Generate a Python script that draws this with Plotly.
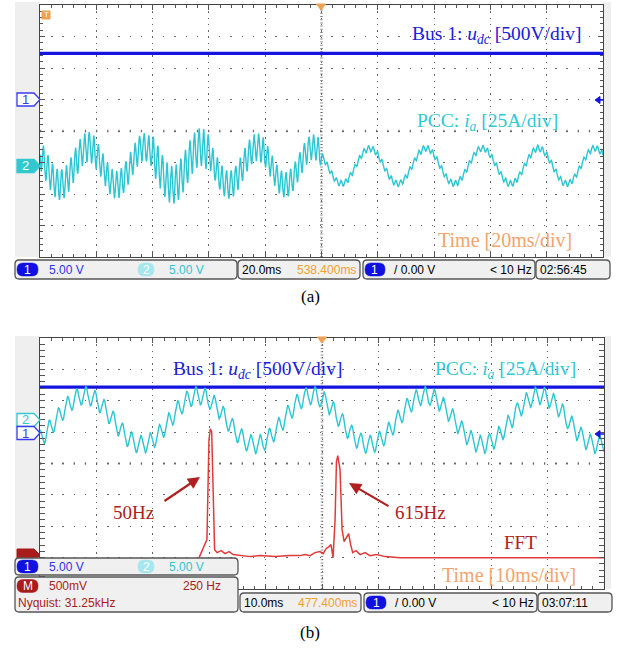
import numpy as np
import plotly.graph_objects as go

W, H = 618, 652

# ---------------- data ----------------
# common
ripple_freq_Hz = 615.0
V_per_div = 500.0          # bus 1 : u_dc
A_per_div = 25.0           # PCC : i_a
fft_mV_per_div = 500.0

# panel (a)  20 ms/div
a_time_ms = [-100.0, 100.0]
a_udc_V = [733.0, 733.0]
a_ch1_offset_div = 1.0
a_ch2_offset_div = -1.11
a_fund_freq_Hz = 50.0
a_first_peak_ms = -82.9
a_cycle_start_ms = [-100, -80, -60, -40, -20, 0, 20, 40, 60, 80]
a_fund_amp_A = [15, 15, 15, 15, 15, 14, 14, 14, 14, 14]
a_ripple_amp_A = [12, 11, 15, 11, 10, 2.5, 2.5, 2.5, 2.5, 2.5]

# panel (b)  10 ms/div
b_time_ms = [-50.0, 50.0]
b_udc_V = [733.0, 733.0]
b_ch1_offset_div = 0.97
b_ch2_offset_div = 1.385
b_fund_freq_Hz = 49.6
b_first_peak_ms = -42.1
b_cycle_start_ms = [-50, -30, -10, 10, 30]
b_fund_amp_A = [19.5, 19.5, 19.5, 19.5, 19.5]
b_ripple_amp_A = [7.2, 7.2, 7.2, 7.2, 7.2]

fft_ref_div = -3.0
fft_freq_Hz = [0, 35, 44, 50, 56, 62, 69, 80, 98, 115, 133, 151, 182, 226, 271, 337, 403, 447, 470, 492,
               514, 536, 550, 563, 576, 585, 594, 603, 609, 615, 625, 634, 643, 654, 663, 672, 681, 696, 714, 736,
               758, 785, 825, 891, 1795]
fft_mag_mV = [0, 287, 1879, 2054, 2006, 923, 127, 80, 111, 64, 96, 48, 32, 16, 32, 16, 32, 32, 48, 32,
              80, 96, 64, 143, 175, 207, 0, 605, 1528, 1624, 1401, 446, 255, 318, 382, 207, 80, 111, 48, 80,
              32, 48, 16, 0, 0]

# ---------------- colours / fonts ----------------
BLUE = "#1414e0"
CYAN = "#2cc6d2"
RED = "#e23a3a"
DRED = "#a81c1c"
ORANGE = "#f0a050"
SERIF = "Liberation Serif, Times New Roman, serif"
NARROW = "Liberation Sans, Arial, sans-serif"
SB = 12  # status bar font size


def X(px):
    return px / W


def Y(py):
    return 1 - py / H


def current_trace(trange, first_peak, f0, cyc_start, famp, ramp, n):
    t = np.linspace(trange[0], trange[1], n)
    idx = np.clip(np.searchsorted(np.array(cyc_start), t, side="right") - 1, 0, len(cyc_start) - 1)
    fa = np.array(famp, dtype=float)[idx]
    ra = np.array(ramp, dtype=float)[idx]
    i = fa * np.cos(2 * np.pi * f0 * (t - first_peak) / 1000.0) + ra * np.sin(
        2 * np.pi * ripple_freq_Hz * t / 1000.0)
    return t, i


fig = go.Figure()

# ---- panel (a) traces ----
fig.add_trace(go.Scatter(x=a_time_ms, y=[a_ch1_offset_div + v / V_per_div for v in a_udc_V],
                         mode="lines", line=dict(color=BLUE, width=3.2), xaxis="x", yaxis="y"))
ta, ia = current_trace(a_time_ms, a_first_peak_ms, a_fund_freq_Hz, a_cycle_start_ms,
                       a_fund_amp_A, a_ripple_amp_A, 8000)
fig.add_trace(go.Scatter(x=ta, y=a_ch2_offset_div + ia / A_per_div, mode="lines",
                         line=dict(color=CYAN, width=1.4), xaxis="x", yaxis="y"))

# ---- panel (b) traces ----
fig.add_trace(go.Scatter(x=b_time_ms, y=[b_ch1_offset_div + v / V_per_div for v in b_udc_V],
                         mode="lines", line=dict(color=BLUE, width=3.2), xaxis="x2", yaxis="y2"))
tb, ib = current_trace(b_time_ms, b_first_peak_ms, b_fund_freq_Hz, b_cycle_start_ms,
                       b_fund_amp_A, b_ripple_amp_A, 5000)
fig.add_trace(go.Scatter(x=tb, y=b_ch2_offset_div + ib / A_per_div, mode="lines",
                         line=dict(color=CYAN, width=1.4), xaxis="x2", yaxis="y2"))
fig.add_trace(go.Scatter(x=fft_freq_Hz, y=[fft_ref_div + m / fft_mV_per_div for m in fft_mag_mV],
                         mode="lines", line=dict(color=RED, width=1.5), xaxis="x3", yaxis="y2"))


def axis(rng, dt, mdt, domain, anchor, gdash):
    return dict(range=rng, domain=domain, anchor=anchor, dtick=dt, tick0=rng[0],
                showticklabels=False, ticks="inside", ticklen=5, tickcolor="#555", tickwidth=1,
                minor=dict(ticks="inside", ticklen=3, tickcolor="#555", dtick=mdt, tick0=rng[0], showgrid=False),
                showline=True, linecolor="#444", linewidth=1.3, mirror="allticks",
                showgrid=True, gridcolor="#666", gridwidth=1.3, griddash=gdash,
                zeroline=False, fixedrange=True)


a_dom_x = [X(40), X(603)]
a_dom_y = [Y(257), Y(5)]
b_dom_x = [X(40), X(604)]
b_dom_y = [Y(589), Y(338)]

fig.update_layout(
    width=W, height=H, margin=dict(l=0, r=0, t=0, b=0),
    paper_bgcolor="white", plot_bgcolor="white", showlegend=False,
    xaxis=axis([-100, 100], 20, 4, a_dom_x, "y", "1.3px,5px"),
    yaxis=axis([-4, 4], 1, 0.2, a_dom_y, "x", "1.3px,9.9px"),
    xaxis2=axis([-50, 50], 10, 2, b_dom_x, "y2", "1.3px,5px"),
    yaxis2=axis([-4, 4], 1, 0.2, b_dom_y, "x2", "1.3px,9.9px"),
    xaxis3=dict(range=[-705, 1795], overlaying="x2", anchor="y2", visible=False, fixedrange=True),
)

shapes = []
annots = []


def path_px(pts, close=True):
    s = "M " + " L ".join(f"{X(x):.5f},{Y(y):.5f}" for x, y in pts)
    return s + (" Z" if close else "")


def rrect(x0, y0, x1, y1, r, fill, line="#555", lw=1.3):
    def p(x, y):
        return f"{X(x):.5f},{Y(y):.5f}"
    d = (f"M {p(x0 + r, y0)} L {p(x1 - r, y0)} Q {p(x1, y0)} {p(x1, y0 + r)} "
         f"L {p(x1, y1 - r)} Q {p(x1, y1)} {p(x1 - r, y1)} L {p(x0 + r, y1)} "
         f"Q {p(x0, y1)} {p(x0, y1 - r)} L {p(x0, y0 + r)} Q {p(x0, y0)} {p(x0 + r, y0)} Z")
    shapes.append(dict(type="path", xref="paper", yref="paper", path=d, fillcolor=fill,
                       line=dict(color=line, width=lw), layer="above"))


def text(x, y, s, color="black", size=13, family=NARROW, xanchor="left", yanchor="middle"):
    annots.append(dict(x=X(x), y=Y(y), xref="paper", yref="paper", text=s, showarrow=False,
                       xanchor=xanchor, yanchor=yanchor, font=dict(family=family, size=size, color=color)))


def pill(x0, x1, yc, fill, label, fcolor="white"):
    rrect(x0, yc - 6.5, x1, yc + 6.5, 6, fill, line=fill, lw=0.5)
    text((x0 + x1) / 2, yc, label, fcolor, 12, xanchor="center")


def marker(yc, label, color, filled):
    pts = [(17, yc - 6.5), (34, yc - 6.5), (40, yc), (34, yc + 6.5), (17, yc + 6.5)]
    shapes.append(dict(type="path", xref="paper", yref="paper", path=path_px(pts),
                       fillcolor=color if filled else "white", line=dict(color=color, width=1.3),
                       layer="above"))
    text(25, yc, label, "white" if filled else color, 13, xanchor="center")


# side gray strips
for (x0, x1, y0, y1) in [(15, 40, 2, 257), (603, 611, 2, 257), (15, 40, 336, 589), (604, 611, 336, 589)]:
    shapes.append(dict(type="rect", xref="paper", yref="paper", x0=X(x0), x1=X(x1), y0=Y(y1), y1=Y(y0),
                       fillcolor="#efefef", line=dict(width=0), layer="below"))

# centre crosshairs
for xr, yr, trng in [("x", "y", 100), ("x2", "y2", 50)]:
    shapes.append(dict(type="line", xref=xr, yref=yr, x0=0, x1=0, y0=-4, y1=4,
                       line=dict(color="#8a8a8a", width=2.6, dash="1px,2.2px"), layer="below"))
    shapes.append(dict(type="line", xref=xr, yref=yr, x0=-trng, x1=trng, y0=0, y1=0,
                       line=dict(color="#777", width=2.6, dash="1.3px,9.9px"), layer="below"))

# trigger position triangles and level arrows
for xc, yt in [(321, 5), (322, 338)]:
    shapes.append(dict(type="path", xref="paper", yref="paper",
                       path=path_px([(xc - 4.5, yt - 1), (xc + 4.5, yt - 1), (xc, yt + 5)]),
                       fillcolor=ORANGE, line=dict(color=ORANGE, width=1), layer="above"))
for yl in [100, 434]:
    shapes.append(dict(type="path", xref="paper", yref="paper",
                       path=path_px([(595, yl), (600, yl - 3.5), (600, yl + 3.5)]),
                       fillcolor=BLUE, line=dict(color=BLUE, width=1), layer="above"))
    shapes.append(dict(type="line", xref="paper", yref="paper", x0=X(599), x1=X(604), y0=Y(yl), y1=Y(yl),
                       line=dict(color=BLUE, width=1.5), layer="above"))

# "T" marker in (a)
shapes.append(dict(type="rect", xref="paper", yref="paper", x0=X(42), x1=X(50), y0=Y(19), y1=Y(11),
                   fillcolor=ORANGE, line=dict(color=ORANGE, width=1), layer="above"))
text(46, 15, "T", "white", 8, xanchor="center")

# channel markers
marker(99.5, "1", "#3a3af0", False)
marker(166, "2", "#33c8d0", True)
marker(420, "2", "#33c8d0", False)
marker(433, "1", "#3a3af0", False)
shapes.append(dict(type="path", xref="paper", yref="paper",
                   path=path_px([(17, 549), (34, 549), (40, 555), (34, 561), (17, 561)]),
                   fillcolor=DRED, line=dict(color=DRED, width=1), layer="above"))

# ---------- status bars (a) ----------
yc = 269.5
rrect(15, 260, 237, 279, 4, "#f0f0f0")
pill(17, 38, yc, "#1010e0", "1")
text(47, yc, "5.00 V", "#3030e8", SB)
pill(138, 154, yc, "#a6e6ee", "2")
text(167, yc, "5.00 V", "#30c4d4", SB)
rrect(238, 260, 360, 279, 4, "#f0f0f0")
text(240, yc, "20.0ms", "black", SB)
text(358, yc, "538.400ms", "#f0a030", SB, xanchor="right")
rrect(363, 260, 535, 279, 4, "#f0f0f0")
pill(365, 385, yc, "#1010e0", "1")
text(392, yc, "/ 0.00 V", "black", SB)
text(534, yc, "< 10 Hz", "black", SB, xanchor="right")
rrect(536, 260, 610, 279, 4, "#f0f0f0")
text(538, yc, "02:56:45", "black", SB)

# ---------- status bars (b) ----------
yc = 566.5
rrect(15, 558, 238, 575, 4, "#f0f0f0")
pill(17, 38, yc, "#1010e0", "1")
text(47, yc, "5.00 V", "#3030e8", SB)
pill(138, 154, yc, "#a6e6ee", "2")
text(167, yc, "5.00 V", "#30c4d4", SB)
rrect(15, 577, 238, 612, 4, "#f0f0f0")
pill(17, 38, 586, DRED, "M")
text(47, 586, "500mV", DRED, SB)
text(223, 586, "250 Hz", DRED, SB, xanchor="right")
text(16, 603, "Nyquist: 31.25kHz", DRED, SB)
yc = 602.5
rrect(240, 593, 361, 612, 4, "#f0f0f0")
text(242, yc, "10.0ms", "black", SB)
text(359, yc, "477.400ms", "#f0a030", SB, xanchor="right")
rrect(364, 593, 537, 612, 4, "#f0f0f0")
pill(366, 386, yc, "#1010e0", "1")
text(393, yc, "/ 0.00 V", "black", SB)
text(536, yc, "< 10 Hz", "black", SB, xanchor="right")
rrect(538, 593, 612, 612, 4, "#f0f0f0")
text(540, yc, "03:07:11", "black", SB)

# ---------- labels ----------
text(410, 35, "Bus 1: <i>u</i><sub><i>dc</i></sub> [500V/div]", "#2020d8", 19.5, SERIF)
text(415, 122, "PCC: <i>i</i><sub><i>a</i></sub> [25A/div]", "#30c8d6", 19.5, SERIF)
text(436, 240, "Time [20ms/div]", "#f2a46c", 20, SERIF)
text(310, 296, "(a)", "black", 17, SERIF, xanchor="center")

text(171, 370, "Bus 1: <i>u</i><sub><i>dc</i></sub> [500V/div]", "#2020d8", 19.5, SERIF)
text(433, 370, "PCC: <i>i</i><sub><i>a</i></sub> [25A/div]", "#30c8d6", 19.5, SERIF)
text(111, 512, "50Hz", "#b02020", 19, SERIF)
text(393, 512, "615Hz", "#b02020", 19, SERIF)
text(502, 542, "FFT", "#b02020", 19, SERIF)
text(440, 575, "Time [10ms/div]", "#f2a46c", 20, SERIF)
text(310, 632, "(b)", "black", 17, SERIF, xanchor="center")

for hx, hy, ax, ay in [(200, 477, -37, 25), (349, 483, 41, 24)]:
    annots.append(dict(x=X(hx), y=Y(hy), xref="paper", yref="paper", text="", showarrow=True,
                       ax=ax, ay=ay, arrowcolor="#b02020", arrowwidth=2.2, arrowhead=2, arrowsize=1.1))

fig.update_layout(shapes=shapes, annotations=annots)
fig.write_html("out.html")
